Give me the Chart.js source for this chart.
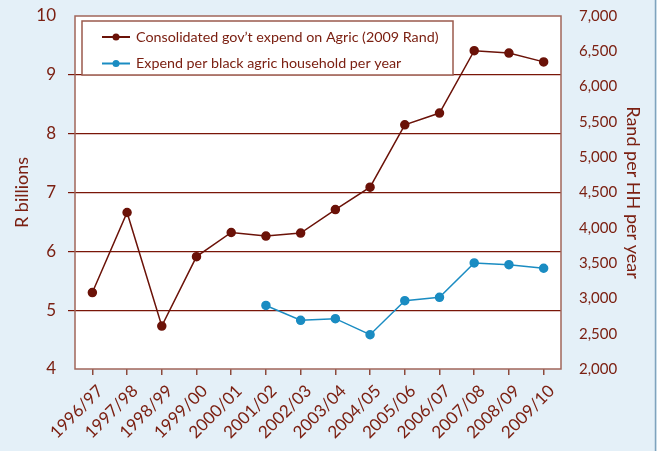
<!DOCTYPE html>
<html>
<head>
<meta charset="utf-8">
<script src="https://cdn.jsdelivr.net/npm/chart.js@4"></script>
<style>
    html, body { margin: 0; padding: 0; background: #e4f0f8; }
    #wrap { width: 657px; height: 451px; }
</style>
</head>
<body>
<div id="wrap"><canvas id="agricChart" width="657" height="451"></canvas></div>
<script>
// Financial years on the x axis
let years = ["1996/97", "1997/98", "1998/99", "1999/00", "2000/01", "2001/02", "2002/03",
    "2003/04", "2004/05", "2005/06", "2006/07", "2007/08", "2008/09", "2009/10"];

// Consolidated gov't expenditure on agriculture, R billions (2009 Rand)
let govExpend = [5.30, 6.66, 4.73, 5.91, 6.32, 6.26, 6.31, 6.71, 7.09, 8.15, 8.35, 9.41, 9.37, 9.22];

// Expenditure per black agricultural household per year, Rand
let perHousehold = [null, null, null, null, null, 2900, 2690, 2713, 2486, 2968, 3016, 3502, 3478, 3427];

// Axis ranges
let leftAxis = { min: 4, max: 10, step: 1 };
let rightAxis = { min: 2000, max: 7000, step: 500 };

let textColour = "#7b2012";
let fontName = "Lato, 'Open Sans', sans-serif";

// Page background, white plot area and its frame
let plotFrame = {
    id: "plotFrame",
    beforeDraw: (chart) => {
        let ctx = chart.ctx, a = chart.chartArea;
        ctx.save();
        ctx.fillStyle = "#e4f0f8";
        ctx.fillRect(0, 0, chart.width, chart.height);
        ctx.strokeStyle = "#7fa3bd";
        ctx.lineWidth = 1.5;
        ctx.beginPath();
        ctx.moveTo(655.5, 0);
        ctx.lineTo(655.5, chart.height);
        ctx.stroke();
        ctx.fillStyle = "#ffffff";
        ctx.fillRect(a.left, a.top, a.right - a.left, a.bottom - a.top);
        ctx.restore();
    },
    beforeDatasetsDraw: (chart) => {
        let ctx = chart.ctx, a = chart.chartArea;
        ctx.save();
        ctx.strokeStyle = "#a0655a";
        ctx.lineWidth = 1.5;
        ctx.strokeRect(a.left, a.top, a.right - a.left, a.bottom - a.top);
        ctx.restore();
    }
};

// Boxed legend sitting inside the plot area, top left
let boxedLegend = {
    id: "boxedLegend",
    afterDraw: (chart) => {
        let ctx = chart.ctx, a = chart.chartArea;
        let x = a.left + 7, y = a.top + 5, w = 371, h = 54;
        ctx.save();
        ctx.fillStyle = "#ffffff";
        ctx.fillRect(x, y, w, h);
        ctx.strokeStyle = "#9b5a4c";
        ctx.lineWidth = 1.5;
        ctx.strokeRect(x, y, w, h);
        chart.data.datasets.forEach((ds, i) => {
            let ly = y + 16 + i * 26.5;
            ctx.strokeStyle = ds.borderColor;
            ctx.lineWidth = 2;
            ctx.beginPath();
            ctx.moveTo(x + 20, ly);
            ctx.lineTo(x + 48, ly);
            ctx.stroke();
            ctx.fillStyle = ds.borderColor;
            ctx.beginPath();
            ctx.arc(x + 34, ly, 3.5, 0, Math.PI * 2);
            ctx.fill();
            ctx.fillStyle = textColour;
            ctx.font = "14.3px " + fontName;
            ctx.textBaseline = "middle";
            ctx.fillText(ds.label, x + 54, ly);
        });
        ctx.restore();
    }
};

// Fix a vertical axis width and drop the label overhang padding it asks for
let fitVertical = (width) => (scale) => {
    scale.width = width;
    scale.paddingTop = 0;
    scale.paddingBottom = 0;
};

let context = document.getElementById("agricChart").getContext("2d");
let chartConfig = {
    type: "line",
    data: {
        labels: years,
        datasets: [{
            label: "Consolidated gov\u2019t expend on Agric (2009 Rand)",
            data: govExpend,
            yAxisID: "y",
            borderColor: "#6b1208",
            backgroundColor: "#6b1208",
            borderWidth: 1.5,
            pointRadius: 4,
            pointHoverRadius: 4,
            tension: 0
        }, {
            label: "Expend per black agric household per year",
            data: perHousehold,
            yAxisID: "y1",
            borderColor: "#1a8cc2",
            backgroundColor: "#1a8cc2",
            borderWidth: 1.5,
            pointRadius: 4,
            pointHoverRadius: 4,
            tension: 0
        }]
    },
    options: {
        responsive: false,
        animation: false,
        layout: { padding: { top: 16, left: 0, right: 0, bottom: 0 } },
        plugins: {
            legend: { display: false },
            tooltip: { enabled: false }
        },
        scales: {
            x: {
                offset: true,
                border: { display: false },
                grid: { drawOnChartArea: false, drawTicks: true, tickLength: 6, color: "#8c4a3c", lineWidth: 1.5 },
                ticks: {
                    autoSkip: false, minRotation: 45, maxRotation: 45, padding: 6, labelOffset: 8,
                    color: textColour, font: { family: fontName, size: 17 }
                },
                afterFit: (scale) => { scale.height = 82; }
            },
            y: {
                position: "left",
                min: leftAxis.min,
                max: leftAxis.max,
                border: { display: false },
                grid: {
                    color: (c) => (c.tick.value === leftAxis.min || c.tick.value === leftAxis.max) ? "rgba(0,0,0,0)" : "#7a1608",
                    lineWidth: 1.2,
                    tickLength: 7
                },
                ticks: {
                    stepSize: leftAxis.step, padding: 12,
                    color: textColour, font: { family: fontName, size: 17 }
                },
                title: {
                    display: true, text: "R billions", color: textColour,
                    font: { family: fontName, size: 18 }, padding: { top: 11, bottom: 0 }
                },
                afterFit: fitVertical(75)
            },
            y1: {
                position: "right",
                min: rightAxis.min,
                max: rightAxis.max,
                border: { display: false },
                grid: { display: false },
                ticks: {
                    stepSize: rightAxis.step, padding: 10,
                    color: textColour, font: { family: fontName, size: 15 },
                    callback: (v) => v.toLocaleString("en-US")
                },
                title: {
                    display: true, text: "Rand per HH per year", color: textColour,
                    font: { family: fontName, size: 18 }, padding: { top: 13, bottom: 0 }
                },
                afterFit: fitVertical(96)
            }
        }
    },
    plugins: [plotFrame, boxedLegend]
};
window.agricChart = new Chart(context, chartConfig);
</script>
</body>
</html>
